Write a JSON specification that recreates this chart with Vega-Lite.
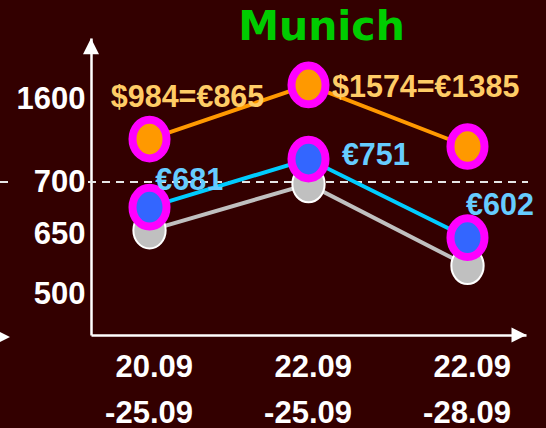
{
  "$schema": "https://vega.github.io/schema/vega-lite/v6.json",
  "width": 435,
  "height": 297,
  "autosize": {"type": "none"},
  "padding": {"left": 91, "top": 38, "right": 20, "bottom": 93},
  "background": "#330000",
  "title": {
    "text": "Munich",
    "font": "DejaVu Sans",
    "fontSize": 41,
    "fontWeight": "bold",
    "color": "#00cc00",
    "anchor": "middle",
    "baseline": "alphabetic",
    "offset": -4,
    "dx": 13,
    "dy": 39
  },
  "config": {
    "view": {"stroke": null},
    "axis": {
      "domainColor": "#ffffff",
      "domainWidth": 2.5,
      "ticks": false,
      "grid": false,
      "labelColor": "#ffffff",
      "labelFont": "Liberation Sans Narrow, Arial Narrow, Liberation Sans, Arial, sans-serif",
      "labelFontWeight": "bold",
      "labelFontSize": 31,
      "labelOverlap": false,
      "labelFlush": false,
      "labelLimit": 0
    },
    "axisX": {
      "labelAlign": "right",
      "labelOffset": 43,
      "labelBaseline": "alphabetic",
      "labelPadding": 41.5,
      "labelLineHeight": 46,
      "labelAngle": 0
    },
    "axisY": {"labelPadding": 6, "labelBaseline": "middle", "format": "d"},
    "text": {"font": "Liberation Sans Narrow, Arial Narrow, Liberation Sans, Arial, sans-serif", "fontWeight": "bold", "fontSize": 30.5}
  },
  "datasets": {
    "prices": [
      {"period": "20.09-25.09", "series": "gray", "value": 654, "label": null},
      {"period": "22.09-25.09", "series": "gray", "value": 698, "label": null},
      {"period": "22.09-28.09", "series": "gray", "value": 571, "label": null},
      {"period": "20.09-25.09", "series": "blue", "value": 676, "label": "€681"},
      {"period": "22.09-25.09", "series": "blue", "value": 949, "label": "€751"},
      {"period": "22.09-28.09", "series": "blue", "value": 642, "label": "€602"},
      {"period": "20.09-25.09", "series": "orange", "value": 1166, "label": "$984=€865"},
      {"period": "22.09-25.09", "series": "orange", "value": 1752, "label": "$1574=€1385"},
      {"period": "22.09-28.09", "series": "orange", "value": 1085, "label": null}
    ]
  },
  "layer": [
    {
      "data": {"values": [{}]},
      "layer": [
        {
          "mark": {"type": "rule", "color": "#e6e6e6", "strokeWidth": 2, "strokeDash": [8, 6]},
          "encoding": {
            "x": {"datum": -0.2092, "type": "quantitative", "scale": {"domain": [0, 1], "nice": false, "zero": false}, "axis": null},
            "x2": {"datum": -0.1793},
            "y": {"datum": 700, "type": "quantitative", "scale": {"type": "linear", "domain": [397, 500, 650, 700, 1600, 2260], "range": [297, 256, 196.5, 144, 61, 0], "nice": false, "zero": false}, "axis": {"values": [500, 650, 700, 1600], "title": null}}
          }
        },
        {
          "mark": {"type": "rule", "color": "#e6e6e6", "strokeWidth": 2, "strokeDash": [8, 6]},
          "encoding": {
            "x": {"datum": -0.0069, "type": "quantitative", "scale": {"domain": [0, 1], "nice": false, "zero": false}, "axis": null},
            "x2": {"datum": 1.0046},
            "y": {"datum": 700, "type": "quantitative", "scale": {"type": "linear", "domain": [397, 500, 650, 700, 1600, 2260], "range": [297, 256, 196.5, 144, 61, 0], "nice": false, "zero": false}, "axis": {"values": [500, 650, 700, 1600], "title": null}}
          }
        }
      ]
    },
    {
      "data": {"name": "prices"},
      "encoding": {
        "x": {
          "field": "period",
          "type": "nominal",
          "sort": null,
          "scale": {"type": "point", "padding": 0.368},
          "axis": {"title": null, "labelExpr": "[slice(datum.label, 0, 5), slice(datum.label, 5)]"}
        },
        "y": {
          "field": "value",
          "type": "quantitative",
          "scale": {"type": "linear", "domain": [397, 500, 650, 700, 1600, 2260], "range": [297, 256, 196.5, 144, 61, 0], "nice": false, "zero": false},
          "axis": {"values": [500, 650, 700, 1600], "title": null}
        }
      },
      "layer": [
        {"transform": [{"filter": "datum.series === 'gray'"}], "mark": {"type": "line", "color": "#c0c0c0", "strokeWidth": 4}},
        {"transform": [{"filter": "datum.series === 'blue'"}], "mark": {"type": "line", "color": "#00ccff", "strokeWidth": 4}},
        {"transform": [{"filter": "datum.series === 'orange'"}], "mark": {"type": "line", "color": "#ff9900", "strokeWidth": 4}},
        {"transform": [{"filter": "datum.series === 'gray'"}], "mark": {"type": "point", "shape": "M-0.885,0A0.885,1,0,1,0,0.885,0A0.885,1,0,1,0,-0.885,0Z", "size": 1332, "filled": true, "fill": "#c0c0c0", "stroke": "#ffffff", "strokeWidth": 2, "opacity": 1}},
        {"transform": [{"filter": "datum.series === 'blue'"}], "mark": {"type": "point", "shape": "M-0.879,0A0.879,1,0,1,0,0.879,0A0.879,1,0,1,0,-0.879,0Z", "size": 1498, "filled": true, "fill": "#3366ff", "stroke": "#ff00ff", "strokeWidth": 8, "opacity": 1}},
        {"transform": [{"filter": "datum.series === 'orange'"}], "mark": {"type": "point", "shape": "M-0.879,0A0.879,1,0,1,0,0.879,0A0.879,1,0,1,0,-0.879,0Z", "size": 1498, "filled": true, "fill": "#ff9900", "stroke": "#ff00ff", "strokeWidth": 8, "opacity": 1}},
        {"transform": [{"filter": "datum.label === '$984=€865'"}], "mark": {"type": "text", "color": "#ffcc66", "align": "center", "baseline": "alphabetic", "dx": 38, "dy": -32.3}, "encoding": {"text": {"field": "label"}}},
        {"transform": [{"filter": "datum.label === '$1574=€1385'"}], "mark": {"type": "text", "color": "#ffcc66", "align": "left", "baseline": "alphabetic", "dx": 23.5, "dy": 11.7}, "encoding": {"text": {"field": "label"}}},
        {"transform": [{"filter": "datum.label === '€681'"}], "mark": {"type": "text", "color": "#66ccff", "align": "center", "baseline": "alphabetic", "dx": 39.7, "dy": -17}, "encoding": {"text": {"field": "label"}}},
        {"transform": [{"filter": "datum.label === '€751'"}], "mark": {"type": "text", "color": "#66ccff", "align": "center", "baseline": "alphabetic", "dx": 67.3, "dy": 6}, "encoding": {"text": {"field": "label"}}},
        {"transform": [{"filter": "datum.label === '€602'"}], "mark": {"type": "text", "color": "#66ccff", "align": "center", "baseline": "alphabetic", "dx": 32.5, "dy": -22.5}, "encoding": {"text": {"field": "label"}}}
      ]
    },
    {
      "data": {"values": [{}]},
      "layer": [
        {
          "mark": {"type": "point", "shape": "M0,-1L1,1L-1,1Z", "size": 256, "filled": true, "fill": "#ffffff", "strokeWidth": 0, "opacity": 1},
          "encoding": {
            "x": {"datum": 0, "type": "quantitative", "scale": {"domain": [0, 1], "nice": false, "zero": false}, "axis": null},
            "y": {"datum": 2172, "type": "quantitative", "scale": {"type": "linear", "domain": [397, 500, 650, 700, 1600, 2260], "range": [297, 256, 196.5, 144, 61, 0], "nice": false, "zero": false}, "axis": {"values": [500, 650, 700, 1600], "title": null}}
          }
        },
        {
          "mark": {"type": "point", "shape": "M1,0L-1,-1L-1,1Z", "size": 225, "filled": true, "fill": "#ffffff", "strokeWidth": 0, "opacity": 1},
          "encoding": {
            "x": {"datum": 0.9839, "type": "quantitative", "scale": {"domain": [0, 1], "nice": false, "zero": false}, "axis": null},
            "y": {"datum": 397, "type": "quantitative", "scale": {"type": "linear", "domain": [397, 500, 650, 700, 1600, 2260], "range": [297, 256, 196.5, 144, 61, 0], "nice": false, "zero": false}, "axis": {"values": [500, 650, 700, 1600], "title": null}}
          }
        },
        {
          "mark": {"type": "point", "shape": "M1,0L-1,-1L-1,1Z", "size": 121, "filled": true, "fill": "#ffffff", "strokeWidth": 0, "opacity": 1},
          "encoding": {
            "x": {"datum": -0.1989, "type": "quantitative", "scale": {"domain": [0, 1], "nice": false, "zero": false}, "axis": null},
            "y": {"datum": 392, "type": "quantitative", "scale": {"type": "linear", "domain": [397, 500, 650, 700, 1600, 2260], "range": [297, 256, 196.5, 144, 61, 0], "nice": false, "zero": false}, "axis": {"values": [500, 650, 700, 1600], "title": null}}
          }
        }
      ]
    }
  ],
  "resolve": {"scale": {"x": "independent"}}
}
